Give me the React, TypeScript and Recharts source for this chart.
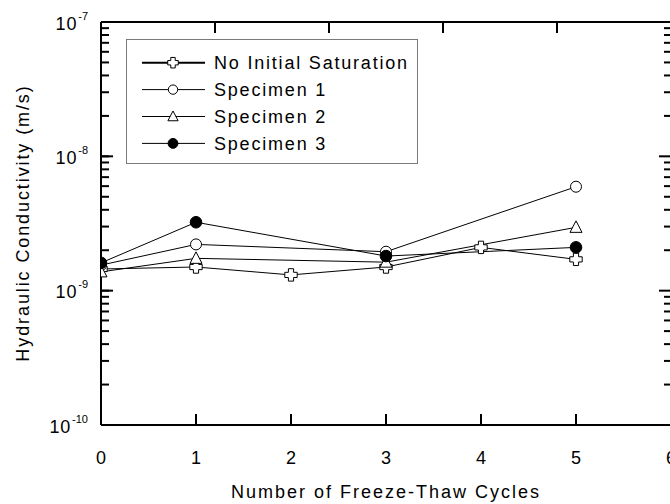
import React from "react";
import { LineChart, Line, XAxis, YAxis, ReferenceLine } from "recharts";

// freeze-thaw cycles (x) and hydraulic conductivity in m/s (y)
const cycles = [0, 1, 2, 3, 4, 5];
const noInitialSaturation = [1.45e-9, 1.5e-9, 1.31e-9, 1.5e-9, 2.1e-9, 1.71e-9];
const specimenCycles = [0, 1, 3, 5];
const specimen1 = [1.55e-9, 2.21e-9, 1.95e-9, 5.94e-9];
const specimen2 = [1.38e-9, 1.74e-9, 1.63e-9, 2.96e-9];
const specimen3 = [1.61e-9, 3.23e-9, 1.81e-9, 2.1e-9];

const seriesNames = ["No Initial Saturation", "Specimen 1", "Specimen 2", "Specimen 3"];
const xTicks = [0, 1, 2, 3, 4, 5, 6];
const decades = [1e-10, 1e-9, 1e-8, 1e-7];
const decadeLabels = ["-10", "-9", "-8", "-7"];
const minorSteps = [2, 3, 4, 5, 6, 7, 8, 9];

const yTicks = [
  ...decades,
  ...decades.slice(0, 3).flatMap((d) => minorSteps.map((m) => d * m)),
];

const rows = cycles.map((c, i) => {
  const j = specimenCycles.indexOf(c);
  return {
    x: c,
    nis: noInitialSaturation[i],
    s1: j >= 0 ? specimen1[j] : null,
    s2: j >= 0 ? specimen2[j] : null,
    s3: j >= 0 ? specimen3[j] : null,
  };
});

const FONT = '"Liberation Sans", Arial, sans-serif';
const INK = "#000";
const TICK_LINE = { stroke: INK, strokeWidth: 2 };

function decadeIndex(v: number) {
  const e = Math.log10(v);
  if (Math.abs(e - Math.round(e)) > 1e-6) return -1;
  return decades.findIndex((d) => Math.abs(Math.log10(d) - e) < 1e-6);
}

// markers
function Plus({ cx, cy, s = 1 }: { cx: number; cy: number; s?: number }) {
  const a = 2.6 * s, b = 6.2 * s;
  const d = `M${cx - a},${cy - b}H${cx + a}V${cy - a}H${cx + b}V${cy + a}H${cx + a}V${cy + b}H${cx - a}V${cy + a}H${cx - b}V${cy - a}H${cx - a}Z`;
  return <path d={d} fill="#fff" stroke={INK} strokeWidth={1} />;
}
function OpenCircle({ cx, cy, s = 1 }: { cx: number; cy: number; s?: number }) {
  return <circle cx={cx} cy={cy} r={5.5 * s} fill="#fff" stroke={INK} strokeWidth={1} />;
}
function Triangle({ cx, cy, s = 1 }: { cx: number; cy: number; s?: number }) {
  const pts = `${cx},${cy - 6.5 * s} ${cx + 6 * s},${cy + 5 * s} ${cx - 6 * s},${cy + 5 * s}`;
  return <polygon points={pts} fill="#fff" stroke={INK} strokeWidth={1} />;
}
function FilledCircle({ cx, cy, s = 1 }: { cx: number; cy: number; s?: number }) {
  return <circle cx={cx} cy={cy} r={5.8 * s} fill={INK} stroke={INK} strokeWidth={1} />;
}
const markers = [Plus, OpenCircle, Triangle, FilledCircle];

function dotFor(M: typeof Plus) {
  return (p: any) => {
    if (p.cx == null || p.cy == null || p.value == null) return <g key={p.index} />;
    return (
      <g key={p.index}>
        <M cx={p.cx} cy={p.cy} />
      </g>
    );
  };
}

// x labels; the tick mark itself is recharts' own tickLine (inward, 11px)
function BottomTick(props: any) {
  const { x, y, payload } = props;
  return (
    <text x={x} y={y + 50} textAnchor="middle" fontSize={18} fill={INK} fontFamily={FONT}>
      {payload.value}
    </text>
  );
}

function TopTick(props: any) {
  const { x, y } = props;
  return <text x={x} y={y} fill="none" fontSize={1}>{""}</text>;
}

// y labels; minor marks are recharts' tickLine (inward, 8px), decades get a longer mark
function LeftTick(props: any) {
  const { x, y, payload } = props;
  const k = decadeIndex(payload.value);
  if (k < 0) return <g />;
  return (
    <g>
      <line x1={x - 8} x2={x + 4} y1={y} y2={y} stroke={INK} strokeWidth={2} />
      <text x={x - 21} y={y + 7.5} textAnchor="end" fill={INK} fontFamily={FONT}>
        <tspan fontSize={18} letterSpacing={0.8}>10</tspan>
        <tspan fontSize={11} dy={-10} dx={1}>{decadeLabels[k]}</tspan>
      </text>
    </g>
  );
}

function RightTick(props: any) {
  const { x, y, payload } = props;
  const k = decadeIndex(payload.value);
  const len = k >= 0 ? 12 : 7;
  return <line x1={x} x2={x - len} y1={y} y2={y} stroke={INK} strokeWidth={2} />;
}

function LegendBox() {
  const left = 126.5, top = 39.5, w = 291, h = 124;
  const rowY = [62.7, 89.6, 116.5, 143.4];
  return (
    <svg width={670} height={504} style={{ position: "absolute", left: 0, top: 0, pointerEvents: "none" }}>
      <rect x={left} y={top} width={w} height={h} fill="#fff" stroke="#7a7a7a" strokeWidth={1} />
      {seriesNames.map((name, i) => {
        const M = markers[i];
        const y = rowY[i];
        return (
          <g key={name}>
            <line x1={142} x2={205} y1={y} y2={y} stroke={INK} strokeWidth={i === 0 ? 2 : 1} />
            <M cx={173} cy={y} s={0.85} />
            <text x={214} y={y + 6.5} fontSize={18} letterSpacing={1.8} fill={INK} fontFamily={FONT}>
              {name}
            </text>
          </g>
        );
      })}
    </svg>
  );
}

export default function App() {
  return (
    <div style={{ position: "absolute", left: 0, top: 0, width: 670, height: 504, overflow: "hidden", background: "#fff", fontFamily: FONT }}>
      <LineChart width={672} height={504} data={rows} margin={{ top: 21, right: 0, left: 0, bottom: 0 }}>
        <XAxis
          xAxisId="b" dataKey="x" type="number" domain={[0, 6]} ticks={xTicks} allowDataOverflow
          height={79} tickSize={-11} tickMargin={0} tickLine={TICK_LINE} stroke={INK} interval={0}
          axisLine={{ stroke: INK, strokeWidth: 2 }} tick={<BottomTick />}
          label={{
            content: () => (
              <text x={386} y={498} textAnchor="middle" fontSize={18} letterSpacing={2} fill={INK} fontFamily={FONT}>
                Number of Freeze-Thaw Cycles
              </text>
            ),
          }}
        />
        <XAxis
          xAxisId="t" orientation="top" type="number" domain={[0, 6]} ticks={xTicks} allowDataOverflow
          height={1} tickSize={-11} tickMargin={0} tickLine={TICK_LINE} stroke={INK} interval={0}
          axisLine={{ stroke: INK, strokeWidth: 2 }} tick={<TopTick />}
        />
        <YAxis
          yAxisId="l" type="number" scale="log" domain={[1e-10, 1e-7]} ticks={yTicks} allowDataOverflow
          width={101} tickSize={-8} tickMargin={0} tickLine={TICK_LINE} stroke={INK} interval={0}
          axisLine={{ stroke: INK, strokeWidth: 2 }} tick={<LeftTick />}
          label={{
            content: () => (
              <text x={23} y={223} transform="rotate(-90 23 223)" textAnchor="middle" dominantBaseline="central"
                fontSize={18} letterSpacing={1.9} fill={INK} fontFamily={FONT}>
                Hydraulic Conductivity (m/s)
              </text>
            ),
          }}
        />
        <YAxis
          yAxisId="r" orientation="right" type="number" scale="log" domain={[1e-10, 1e-7]} ticks={yTicks} allowDataOverflow
          width={1} tickSize={0} tickMargin={0} tickLine={false} interval={0}
          axisLine={{ stroke: INK, strokeWidth: 2 }} tick={<RightTick />}
        />
        <ReferenceLine xAxisId="b" yAxisId="l" y={1e-7} stroke={INK} strokeWidth={2} />
        <Line xAxisId="b" yAxisId="l" dataKey="nis" stroke={INK} strokeWidth={1} connectNulls
          dot={dotFor(Plus)} activeDot={false} isAnimationActive={false} />
        <Line xAxisId="b" yAxisId="l" dataKey="s1" stroke={INK} strokeWidth={1} connectNulls
          dot={dotFor(OpenCircle)} activeDot={false} isAnimationActive={false} />
        <Line xAxisId="b" yAxisId="l" dataKey="s2" stroke={INK} strokeWidth={1} connectNulls
          dot={dotFor(Triangle)} activeDot={false} isAnimationActive={false} />
        <Line xAxisId="b" yAxisId="l" dataKey="s3" stroke={INK} strokeWidth={1} connectNulls
          dot={dotFor(FilledCircle)} activeDot={false} isAnimationActive={false} />
      </LineChart>
      <LegendBox />
    </div>
  );
}
